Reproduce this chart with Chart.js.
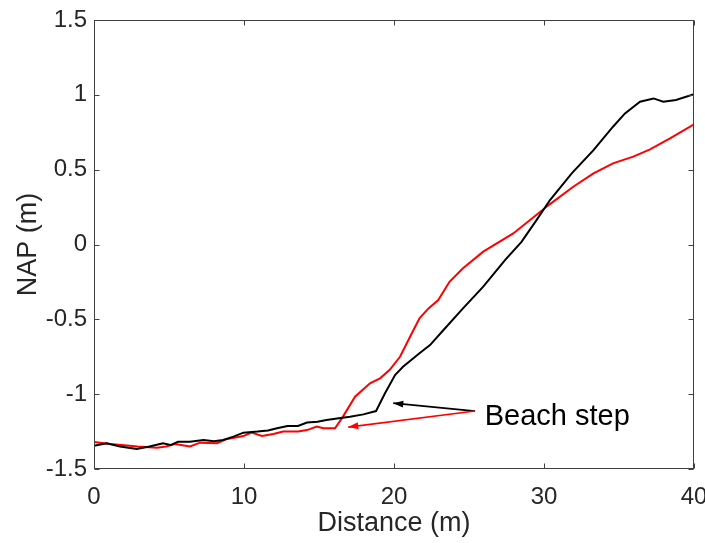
<!DOCTYPE html>
<html>
<head>
<meta charset="utf-8">
<script src="https://cdn.jsdelivr.net/npm/chart.js@4/dist/chart.umd.min.js"></script>
<style>
  html, body { margin: 0; padding: 0; background: #fff; }
  #wrap { width: 705px; height: 543px; }
</style>
</head>
<body>
<div id="wrap"><canvas id="profile" width="705" height="543"></canvas></div>
<script>
// black profile
const distBlack = [0, 0.85, 1.73, 2.85, 3.7, 4.6, 5.1, 5.6, 6.4, 7.3, 8.0, 8.6, 9.3, 9.96, 10.9, 11.6, 12.2, 12.9, 13.6, 14.2, 14.9, 15.5, 16.2, 17.07, 17.96, 18.8, 19.4, 20.07, 20.6, 21.7, 22.4, 23.3, 24.6, 25.95, 27.4, 28.5, 29.5, 30.4, 31.85, 33.3, 34.6, 35.4, 36.4, 37.3, 37.95, 38.8, 40];
const napBlack = [-1.345, -1.328, -1.35, -1.366, -1.35, -1.328, -1.34, -1.318, -1.318, -1.306, -1.315, -1.306, -1.284, -1.257, -1.25, -1.243, -1.228, -1.213, -1.213, -1.19, -1.184, -1.173, -1.162, -1.151, -1.135, -1.113, -0.994, -0.872, -0.817, -0.727, -0.672, -0.571, -0.427, -0.282, -0.104, 0.018, 0.163, 0.297, 0.475, 0.631, 0.787, 0.876, 0.954, 0.976, 0.954, 0.965, 1.005];

// red profile
const distRed = [0, 1.07, 2.2, 2.9, 4.2, 4.8, 5.4, 6.4, 7.07, 8.2, 8.8, 9.96, 10.5, 11.2, 11.96, 12.6, 13.6, 14.2, 14.85, 15.3, 16.07, 16.6, 17.4, 18.4, 19.07, 19.7, 20.4, 21.07, 21.7, 22.3, 22.95, 23.7, 24.6, 25.95, 27.95, 30.4, 31.95, 33.3, 34.6, 35.95, 37.07, 38.4, 40];
const napRed = [-1.32, -1.333, -1.343, -1.35, -1.358, -1.35, -1.333, -1.35, -1.324, -1.328, -1.302, -1.28, -1.257, -1.28, -1.266, -1.25, -1.25, -1.24, -1.217, -1.228, -1.228, -1.15, -1.017, -0.927, -0.894, -0.839, -0.75, -0.616, -0.493, -0.427, -0.371, -0.249, -0.159, -0.048, 0.074, 0.27, 0.386, 0.475, 0.542, 0.587, 0.636, 0.709, 0.803];

const xTicks = [0, 10, 20, 30, 40];
const yTicks = [-1.5, -1, -0.5, 0, 0.5, 1, 1.5];

// annotation anchors (data units)
const noteText = 'Beach step';
const notePos = [26.05, -1.15];
const arrowFrom = [25.4, -1.113];
const arrowBlackTo = [19.95, -1.06];
const arrowRedTo = [16.95, -1.22];

const font = '"Liberation Sans", Arial, sans-serif';
const textCol = '#262626';

function pts(xs, ys) {
  return xs.map((x, i) => ({ x: x, y: ys[i] }));
}

function arrow(ctx, x0, y0, x1, y1, col) {
  ctx.strokeStyle = col;
  ctx.fillStyle = col;
  ctx.lineWidth = 1.6;
  ctx.beginPath();
  ctx.moveTo(x0, y0);
  ctx.lineTo(x1, y1);
  ctx.stroke();
  const a = Math.atan2(y1 - y0, x1 - x0);
  const len = 10, w = 3.5;
  ctx.beginPath();
  ctx.moveTo(x1, y1);
  ctx.lineTo(x1 - len * Math.cos(a) + w * Math.sin(a), y1 - len * Math.sin(a) - w * Math.cos(a));
  ctx.lineTo(x1 - len * Math.cos(a) - w * Math.sin(a), y1 - len * Math.sin(a) + w * Math.cos(a));
  ctx.closePath();
  ctx.fill();
}

const boxPlugin = {
  id: 'matlabBox',
  afterDraw(chart) {
    const { ctx, chartArea: a, scales } = chart;
    const sx = scales.x, sy = scales.y;
    ctx.save();
    ctx.strokeStyle = '#404040';
    ctx.lineWidth = 1;
    const L = Math.round(a.left) + 0.5, R = Math.round(a.right) - 0.5;
    const T = Math.round(a.top) + 0.5, B = Math.round(a.bottom) - 0.5;
    ctx.strokeRect(L, T, R - L, B - T);
    ctx.beginPath();
    xTicks.forEach(v => {
      const px = Math.round(sx.getPixelForValue(v)) + 0.5;
      ctx.moveTo(px, B); ctx.lineTo(px, B - 5);
      ctx.moveTo(px, T); ctx.lineTo(px, T + 5);
    });
    yTicks.forEach(v => {
      const py = Math.round(sy.getPixelForValue(v)) + 0.5;
      ctx.moveTo(L, py); ctx.lineTo(L + 5, py);
      ctx.moveTo(R, py); ctx.lineTo(R - 5, py);
    });
    ctx.stroke();

    const p = (d) => [sx.getPixelForValue(d[0]), sy.getPixelForValue(d[1])];
    const f = p(arrowFrom), b = p(arrowBlackTo), r = p(arrowRedTo);
    arrow(ctx, f[0], f[1], b[0], b[1], '#000000');
    arrow(ctx, f[0], f[1], r[0], r[1], '#ff0000');
    const n = p(notePos);
    ctx.fillStyle = '#000';
    ctx.font = '29px ' + font;
    ctx.textAlign = 'left';
    ctx.textBaseline = 'middle';
    ctx.fillText(noteText, n[0], n[1]);
    ctx.restore();
  }
};

new Chart(document.getElementById('profile').getContext('2d'), {
  type: 'line',
  data: {
    datasets: [
      {
        data: pts(distBlack, napBlack),
        borderColor: '#000000',
        borderWidth: 2,
        pointRadius: 0,
        tension: 0
      },
      {
        data: pts(distRed, napRed),
        borderColor: '#ff0000',
        borderWidth: 2,
        pointRadius: 0,
        tension: 0
      }
    ]
  },
  options: {
    responsive: false,
    animation: false,
    layout: { padding: { top: 20, right: 11, left: 0, bottom: 0 } },
    plugins: { legend: { display: false }, tooltip: { enabled: false } },
    scales: {
      x: {
        type: 'linear',
        min: 0, max: 40,
        afterBuildTicks: s => { s.ticks = xTicks.map(v => ({ value: v })); },
        afterFit: s => { s.height = 74; s.paddingLeft = 0; s.paddingRight = 0; },
        grid: { display: false, drawTicks: false },
        border: { display: false },
        ticks: { color: textCol, font: { family: font, size: 24 }, padding: 14, maxRotation: 0, callback: v => String(v) },
        title: { display: true, text: 'Distance (m)', color: textCol, font: { family: font, size: 27 }, padding: { top: 0, bottom: 3 } }
      },
      y: {
        type: 'linear',
        min: -1.5, max: 1.5,
        afterBuildTicks: s => { s.ticks = yTicks.map(v => ({ value: v })); },
        afterFit: s => { s.width = 94; s.paddingTop = 0; s.paddingBottom = 0; },
        grid: { display: false, drawTicks: false },
        border: { display: false },
        ticks: { color: textCol, font: { family: font, size: 24 }, padding: 7, callback: v => String(v) },
        title: { display: true, text: 'NAP (m)', color: textCol, font: { family: font, size: 27 }, padding: { top: 12, bottom: 0 } }
      }
    }
  },
  plugins: [boxPlugin]
});
</script>
</body>
</html>
